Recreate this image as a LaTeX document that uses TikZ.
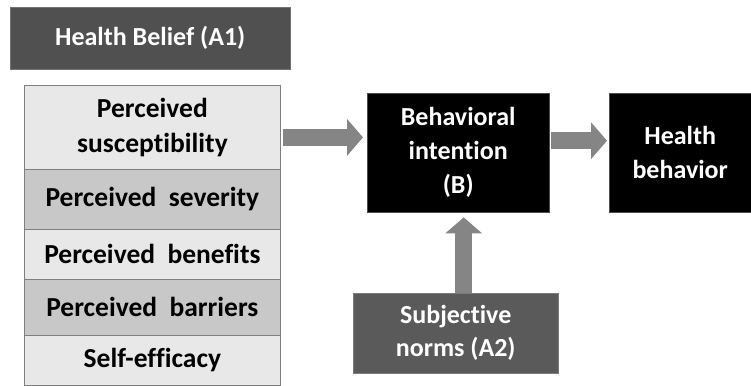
\documentclass[tikz,border=0pt]{standalone}
\usepackage{fontspec}
\setmainfont[Ligatures=CommonOff]{Carlito}
\usetikzlibrary{arrows.meta,calc}
\definecolor{hdr}{HTML}{505050}
\definecolor{snorm}{HTML}{5A5A5A}
\definecolor{lite}{HTML}{E8E8E8}
\definecolor{dark}{HTML}{C8C8C8}
\definecolor{edge}{HTML}{7F7F7F}
\definecolor{arr}{HTML}{858585}
\begin{document}
\begin{tikzpicture}[x=1pt,y=-1pt,
  txt/.style={font=\bfseries\fontsize{26}{34}\selectfont, align=center, inner sep=0pt},
  rowbox/.style={txt, font=\bfseries\fontsize{27.5}{35}\selectfont, draw=edge, line width=0.8pt, anchor=north west, minimum width=256pt, text=black},
  blackbox/.style={txt, fill=black, draw=black!70, anchor=north west, text=white},
  fatarrow/.style={draw=arr, line width=17pt, -{Triangle[width=36pt,length=16pt]}}]
\useasboundingbox (0,0) rectangle (751,385);
\node[txt, fill=hdr, draw=hdr!80, text=white, anchor=north west, minimum width=280pt, minimum height=62pt] (hb) at (10,7) {Health Belief (A1)};
\node[rowbox, fill=lite, minimum height=84pt] (r1) at (24,85) {Perceived\\susceptibility};
\node[rowbox, fill=dark, minimum height=60pt] (r2) at (24,169) {Perceived~~severity};
\node[rowbox, fill=lite, minimum height=50pt] (r3) at (24,229) {Perceived~~benefits};
\node[rowbox, fill=dark, minimum height=56pt] (r4) at (24,279) {Perceived~~barriers};
\node[rowbox, fill=lite, minimum height=50pt] (r5) at (24,335) {Self-efficacy};
\node[blackbox, minimum width=182pt, minimum height=119pt] (B) at (367,93) {Behavioral\\intention\\(B)};
\node[blackbox, minimum width=150pt, minimum height=119pt, text width=142pt] (HB) at (609,93) {\hspace*{-8pt}Health\\\hspace*{-8pt}behavior};
\node[txt, fill=snorm, draw=snorm!80, text=white, anchor=north west, minimum width=205pt, minimum height=80pt, font=\bfseries\fontsize{26}{33}\selectfont] (SN) at (353,293) {Subjective\\norms (A2)};
\coordinate (a1) at ($(r1.east)+(2,10)$);
\draw[fatarrow, shorten >=4pt] (a1) -- (a1 -| B.west);
\coordinate (a2) at ($(B.east)+(2,-12)$);
\draw[fatarrow, shorten >=2pt] (a2) -- (a2 -| HB.west);
\coordinate (a3) at ($(SN.north)+(8,0)$);
\draw[fatarrow, shorten >=5pt] (a3) -- (a3 |- B.south);
\end{tikzpicture}
\end{document}
